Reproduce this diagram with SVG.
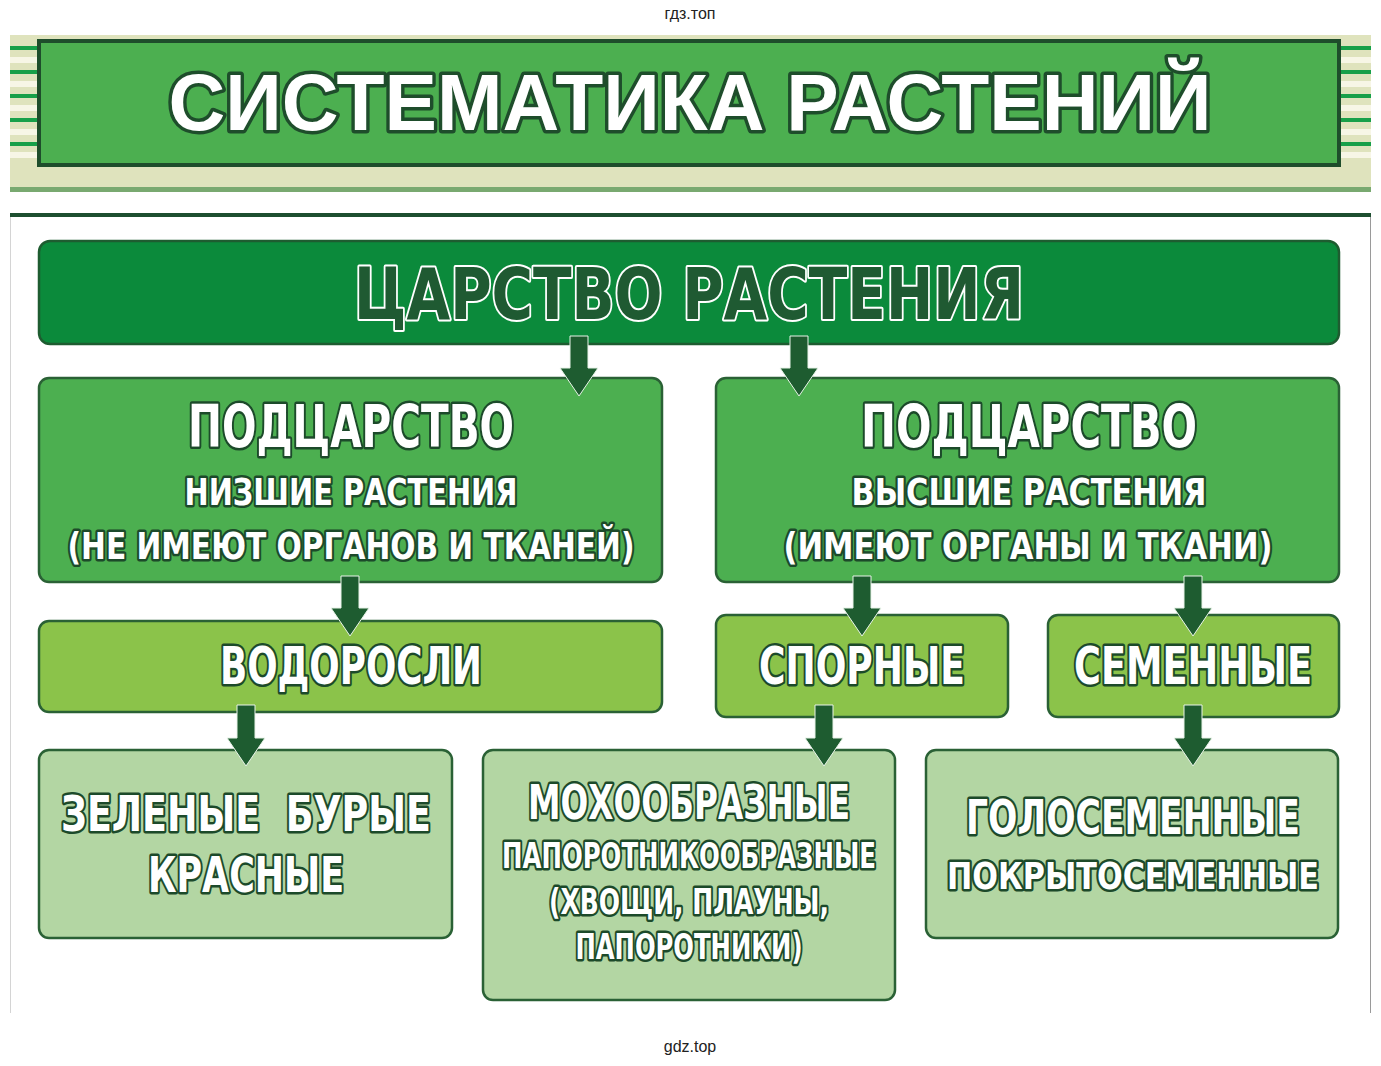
<svg xmlns="http://www.w3.org/2000/svg" width="1381" height="1066" viewBox="0 0 1381 1066">
<style>
.t{font-family:"DejaVu Sans Condensed","DejaVu Sans","Liberation Sans",sans-serif;font-stretch:condensed;font-weight:bold;fill:#ffffff;stroke:#1c4a2a;stroke-width:5;stroke-linejoin:round;paint-order:stroke;text-anchor:middle}
.title{font-family:"Liberation Sans",Arial,sans-serif;font-weight:900;fill:#ffffff;stroke:#1e4d2b;stroke-width:7;stroke-linejoin:round;paint-order:stroke;text-anchor:middle}
.king{font-family:"DejaVu Sans Condensed","DejaVu Sans",sans-serif;font-stretch:condensed;font-weight:bold;fill:#1f5a32;stroke:#ffffff;stroke-width:4;stroke-linejoin:round;paint-order:stroke;text-anchor:middle}
.wm{font-family:"Liberation Sans",Arial,sans-serif;font-size:16px;fill:#222;text-anchor:middle}
.n1{fill:#4caf50;stroke:#2a6135;stroke-width:2.5}
.n2{fill:#8bc34a;stroke:#2a6135;stroke-width:2.5}
.n3{fill:#b3d6a3;stroke:#2a6135;stroke-width:2.5}
.ar{fill:#1e5c30;stroke:#e8f3e8;stroke-width:1}
.stripe{stroke:#17a049;stroke-width:4}
.cream{stroke:#f7f6e6;stroke-width:6}
</style>
<rect width="1381" height="1066" fill="#ffffff"/>
<text class="wm" x="690" y="19">гдз.топ</text>
<text class="wm" x="690" y="1052">gdz.top</text>
<g id="header">
<rect x="10" y="35" width="1361" height="155" fill="#dfe3bd"/>
<rect x="10" y="187" width="1361" height="5" fill="#79a970"/>
<g>
<line class="cream" x1="10" y1="60" x2="38" y2="60"/><line class="cream" x1="10" y1="84" x2="38" y2="84"/><line class="cream" x1="10" y1="108" x2="38" y2="108"/><line class="cream" x1="10" y1="132" x2="38" y2="132"/><line class="cream" x1="10" y1="155" x2="38" y2="155"/>
<line class="cream" x1="1340" y1="60" x2="1371" y2="60"/><line class="cream" x1="1340" y1="84" x2="1371" y2="84"/><line class="cream" x1="1340" y1="108" x2="1371" y2="108"/><line class="cream" x1="1340" y1="132" x2="1371" y2="132"/><line class="cream" x1="1340" y1="155" x2="1371" y2="155"/>
<line class="stripe" x1="10" y1="48" x2="38" y2="48"/><line class="stripe" x1="10" y1="72" x2="38" y2="72"/><line class="stripe" x1="10" y1="96" x2="38" y2="96"/><line class="stripe" x1="10" y1="120" x2="38" y2="120"/><line class="stripe" x1="10" y1="144" x2="38" y2="144"/>
<line class="stripe" x1="1340" y1="48" x2="1371" y2="48"/><line class="stripe" x1="1340" y1="72" x2="1371" y2="72"/><line class="stripe" x1="1340" y1="96" x2="1371" y2="96"/><line class="stripe" x1="1340" y1="120" x2="1371" y2="120"/><line class="stripe" x1="1340" y1="144" x2="1371" y2="144"/>
</g>
<rect x="39" y="41" width="1300" height="124" fill="#4caf50" stroke="#1e4d2b" stroke-width="4"/>
<text class="title" x="690" y="130" font-size="80" textLength="1043" lengthAdjust="spacingAndGlyphs">СИСТЕМАТИКА РАСТЕНИЙ</text>
</g>
<rect x="10" y="213" width="1361" height="4" fill="#1d4f30"/>
<line x1="10.5" y1="217" x2="10.5" y2="1013" stroke="#d4d4d4" stroke-width="1"/>
<line x1="1370.5" y1="217" x2="1370.5" y2="1013" stroke="#9a9a9a" stroke-width="1"/>
<g id="kingdom">
<rect x="39" y="241" width="1300" height="103" rx="11" fill="#0b8a3b" stroke="#1e5c30" stroke-width="2.5"/>
<text class="king" x="689" y="319" font-size="72" textLength="670" lengthAdjust="spacingAndGlyphs">ЦАРСТВО РАСТЕНИЯ</text>
</g>
<g id="sub-low">
<rect class="n1" x="39" y="378" width="623" height="204" rx="10"/>
<text class="t" x="351" y="447" font-size="58" textLength="326" lengthAdjust="spacingAndGlyphs">ПОДЦАРСТВО</text>
<text class="t" x="351" y="505" font-size="38" textLength="333" lengthAdjust="spacingAndGlyphs">НИЗШИЕ РАСТЕНИЯ</text>
<text class="t" x="351" y="559" font-size="38" textLength="567" lengthAdjust="spacingAndGlyphs">(НЕ ИМЕЮТ ОРГАНОВ И ТКАНЕЙ)</text>
</g>
<g id="sub-high">
<rect class="n1" x="716" y="378" width="623" height="204" rx="10"/>
<text class="t" x="1029" y="447" font-size="58" textLength="336" lengthAdjust="spacingAndGlyphs">ПОДЦАРСТВО</text>
<text class="t" x="1029" y="505" font-size="38" textLength="355" lengthAdjust="spacingAndGlyphs">ВЫСШИЕ РАСТЕНИЯ</text>
<text class="t" x="1028" y="559" font-size="38" textLength="489" lengthAdjust="spacingAndGlyphs">(ИМЕЮТ ОРГАНЫ И ТКАНИ)</text>
</g>
<g id="algae">
<rect class="n2" x="39" y="621" width="623" height="91" rx="10"/>
<text class="t" x="351" y="684" font-size="51" textLength="262" lengthAdjust="spacingAndGlyphs">ВОДОРОСЛИ</text>
</g>
<g id="spore">
<rect class="n2" x="716" y="615" width="292" height="102" rx="10"/>
<text class="t" x="862" y="684" font-size="51" textLength="206" lengthAdjust="spacingAndGlyphs">СПОРНЫЕ</text>
</g>
<g id="seed">
<rect class="n2" x="1048" y="615" width="291" height="102" rx="10"/>
<text class="t" x="1193" y="684" font-size="51" textLength="238" lengthAdjust="spacingAndGlyphs">СЕМЕННЫЕ</text>
</g>
<g id="algae-kinds">
<rect class="n3" x="39" y="750" width="413" height="188" rx="10"/>
<text class="t" x="246" y="831" font-size="50" textLength="370" lengthAdjust="spacingAndGlyphs" xml:space="preserve">ЗЕЛЕНЫЕ  БУРЫЕ</text>
<text class="t" x="246" y="892" font-size="50" textLength="196" lengthAdjust="spacingAndGlyphs">КРАСНЫЕ</text>
</g>
<g id="spore-kinds">
<rect class="n3" x="483" y="750" width="412" height="250" rx="10"/>
<text class="t" x="689" y="819" font-size="48" textLength="322" lengthAdjust="spacingAndGlyphs">МОХООБРАЗНЫЕ</text>
<text class="t" x="689" y="868" font-size="36" textLength="374" lengthAdjust="spacingAndGlyphs">ПАПОРОТНИКООБРАЗНЫЕ</text>
<text class="t" x="689" y="914" font-size="36" textLength="280" lengthAdjust="spacingAndGlyphs">(ХВОЩИ, ПЛАУНЫ,</text>
<text class="t" x="689" y="959" font-size="36" textLength="227" lengthAdjust="spacingAndGlyphs">ПАПОРОТНИКИ)</text>
</g>
<g id="seed-kinds">
<rect class="n3" x="926" y="750" width="412" height="188" rx="10"/>
<text class="t" x="1133" y="834" font-size="48" textLength="334" lengthAdjust="spacingAndGlyphs">ГОЛОСЕМЕННЫЕ</text>
<text class="t" x="1133" y="889" font-size="38" textLength="372" lengthAdjust="spacingAndGlyphs">ПОКРЫТОСЕМЕННЫЕ</text>
</g>
<g id="connectors">
<path class="ar" d="M570,336 H588 V368 H598 L579,396 L560,368 H570 Z"/>
<path class="ar" d="M790,336 H808 V368 H818 L799,396 L780,368 H790 Z"/>
<path class="ar" d="M341,576 H359 V608 H369 L350,636 L331,608 H341 Z"/>
<path class="ar" d="M853,576 H871 V608 H881 L862,636 L843,608 H853 Z"/>
<path class="ar" d="M1184,576 H1202 V608 H1212 L1193,636 L1174,608 H1184 Z"/>
<path class="ar" d="M237,705 H255 V738 H265 L246,766 L227,738 H237 Z"/>
<path class="ar" d="M815,705 H833 V738 H843 L824,766 L805,738 H815 Z"/>
<path class="ar" d="M1184,705 H1202 V738 H1212 L1193,766 L1174,738 H1184 Z"/>
</g>
</svg>
